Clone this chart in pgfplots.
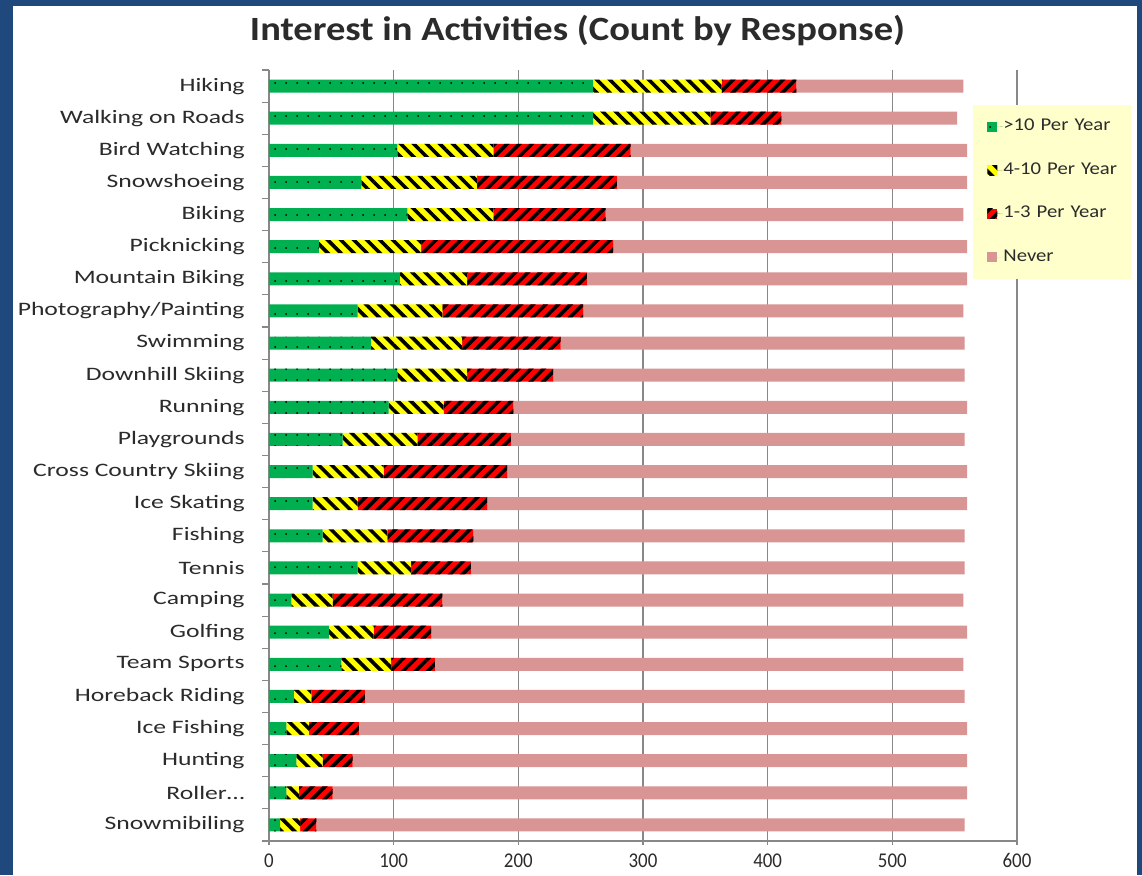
\documentclass[border=0pt]{standalone}
\usepackage{fontspec}
\setmainfont{Carlito}
\newfontfamily\labelfont{Carlito}[FakeStretch=1.35]
\newfontfamily\legfont{Carlito}[FakeStretch=1.15]
\newfontfamily\tickfont{Carlito}[FakeStretch=0.9]
\usepackage{pgfplots}
\pgfplotsset{compat=1.18}
\usepackage{pgfplotstable}
\usetikzlibrary{patterns.meta}
\definecolor{bgblue}{HTML}{1F497D}
\definecolor{cgreen}{HTML}{00B050}
\definecolor{cyellow}{HTML}{FFFF00}
\definecolor{cred}{HTML}{FF0000}
\definecolor{cpink}{HTML}{D99594}
\definecolor{gridgray}{HTML}{888888}
\definecolor{legbg}{HTML}{FFFFCC}
\definecolor{txt}{HTML}{2B2B2B}
\pgfplotstableread{
idx g w r n
0 260 103 60 134
1 260 94 57 141
2 103 77 110 270
3 74 93 112 281
4 111 69 90 287
5 40 82 154 284
6 105 54 96 305
7 71 68 113 305
8 82 73 79 324
9 103 56 69 330
10 96 44 56 364
11 59 60 75 364
12 35 57 99 369
13 35 36 104 385
14 43 52 69 394
15 71 43 48 396
16 18 33 88 418
17 48 36 46 430
18 58 40 35 424
19 20 14 43 481
20 14 18 40 488
21 22 21 24 493
22 14 10 27 509
23 9 16 13 520
}\datatable
\begin{document}
\begin{tikzpicture}
\fill[bgblue] (0,0) rectangle (571pt,-437.5pt);
\fill[white] (6.5pt,-3pt) rectangle (568.5pt,-437.5pt);
\node[anchor=base, inner sep=0pt, text=txt] at (288.75pt,-20pt) {\resizebox{327.5pt}{\height}{\fontsize{17pt}{20pt}\selectfont\bfseries Interest in Activities (Count by Response)}};
\begin{axis}[
  at={(134.5pt,-420.5pt)}, anchor=south west,
  scale only axis, width=374pt, height=385.5pt,
  xbar stacked, bar width=6.5pt,
  xmin=0, xmax=600, ymin=-0.5, ymax=23.5, y dir=reverse,
  xtick={0,100,...,600},
  ytick={0,...,23},
  yticklabels={Hiking, Walking on Roads, Bird Watching, Snowshoeing, Biking, Picknicking, Mountain Biking, Photography/Painting, Swimming, Downhill Skiing, Running, Playgrounds, Cross Country Skiing, Ice Skating, Fishing, Tennis, Camping, Golfing, Team Sports, Horeback Riding, Ice Fishing, Hunting, Roller…, Snowmibiling},
  minor ytick={-0.5,0.5,...,23.5},
  axis x line*=bottom, axis y line*=left,
  axis line style={gridgray, line width=0.7pt},
  xmajorgrids, major grid style={gridgray, line width=0.65pt},
  tick align=outside, major tick length=2pt, minor tick length=3.5pt,
  major y tick style={draw=none},
  minor y tick style={gridgray, line width=0.6pt},
  major x tick style={gridgray, line width=0.65pt},
  /pgf/number format/assume math mode=true,
  yticklabel style={font=\labelfont\fontsize{9.5pt}{11pt}\selectfont, text=txt, inner sep=0pt, xshift=-10pt},
  xticklabel style={font=\tickfont\fontsize{10.5pt}{12pt}\selectfont, text=txt, inner sep=0pt, yshift=-4pt},
  legend style={at={(0.9412,0.9546)}, anchor=north west, fill=legbg, draw=none, inner xsep=7pt, inner ysep=6.75pt, row sep=13.7pt, font=\legfont\fontsize{9pt}{10pt}\selectfont, text=txt, nodes={inner sep=0pt, text width=57pt, text height=6pt, text depth=2pt}},
  legend cell align=left,
  myleg/.style={legend image code/.code={\draw[##1, draw=none] (0pt,-2.5pt) rectangle (5pt,2.5pt); \path (0pt,0pt) -- (8pt,0pt);}},
]
\addplot[fill=cgreen, draw=none, postaction={pattern={Dots[radius=0.5pt, distance=5.5pt]}, pattern color=black}, myleg] table[x=g, y=idx]{\datatable};
\addplot[fill=cyellow, draw=none, postaction={pattern={Lines[angle=-45, distance=4.6pt, line width=1.8pt]}, pattern color=black}, myleg] table[x=w, y=idx]{\datatable};
\addplot[fill=cred, draw=none, postaction={pattern={Lines[angle=45, distance=4.4pt, line width=1.8pt]}, pattern color=black}, myleg] table[x=r, y=idx]{\datatable};
\addplot[fill=cpink, draw=none, myleg] table[x=n, y=idx]{\datatable};
\legend{>10 Per Year, 4-10 Per Year, 1-3 Per Year, Never}
\end{axis}
\end{tikzpicture}
\end{document}
